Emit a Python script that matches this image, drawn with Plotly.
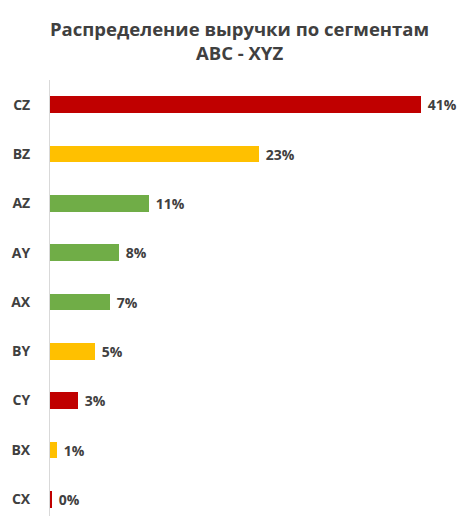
import plotly.graph_objects as go

categories = ["CZ", "BZ", "AZ", "AY", "AX", "BY", "CY", "BX", "CX"]
values = [41.0, 23.1, 10.9, 7.6, 6.6, 5.0, 3.1, 0.8, 0.2]
colors = ["#C00000", "#FFC000", "#70AD47", "#70AD47", "#70AD47", "#FFC000", "#C00000", "#FFC000", "#C00000"]
labels = ["\u00a0" + f"{int(v + 0.5)}%" for v in values]

fig = go.Figure(go.Bar(
    x=values, y=categories, orientation="h",
    marker=dict(color=colors, line=dict(width=0)),
    width=0.34,
    text=labels, textposition="outside", constraintext="none",
    textfont=dict(family="Open Sans", size=14, color="#404040", weight="bold"),
    cliponaxis=False,
))

fig.update_layout(
    width=474, height=516,
    margin=dict(l=50, r=8, t=80, b=0),
    paper_bgcolor="white", plot_bgcolor="white",
    showlegend=False,
    bargap=0,
    annotations=[dict(
        text="Распределение выручки по сегментам<br>ABC - XYZ",
        xref="paper", yref="paper", x=0.455, y=(516 - 14) / 436,
        xanchor="center", yanchor="top", showarrow=False,
        font=dict(family="Open Sans", size=18.5, color="#404040", weight="bold"),
    )],
)
fig.update_xaxes(range=[0, 46], visible=False, showgrid=False, zeroline=False)
fig.update_yaxes(
    range=[8.34, -0.5], showgrid=False, zeroline=False,
    showline=True, linecolor="#d9d9d9", linewidth=1,
    ticks="", ticklabelstandoff=16,
    tickfont=dict(family="Open Sans", size=14, color="#404040", weight="bold"),
)

fig.write_html("out.html")
